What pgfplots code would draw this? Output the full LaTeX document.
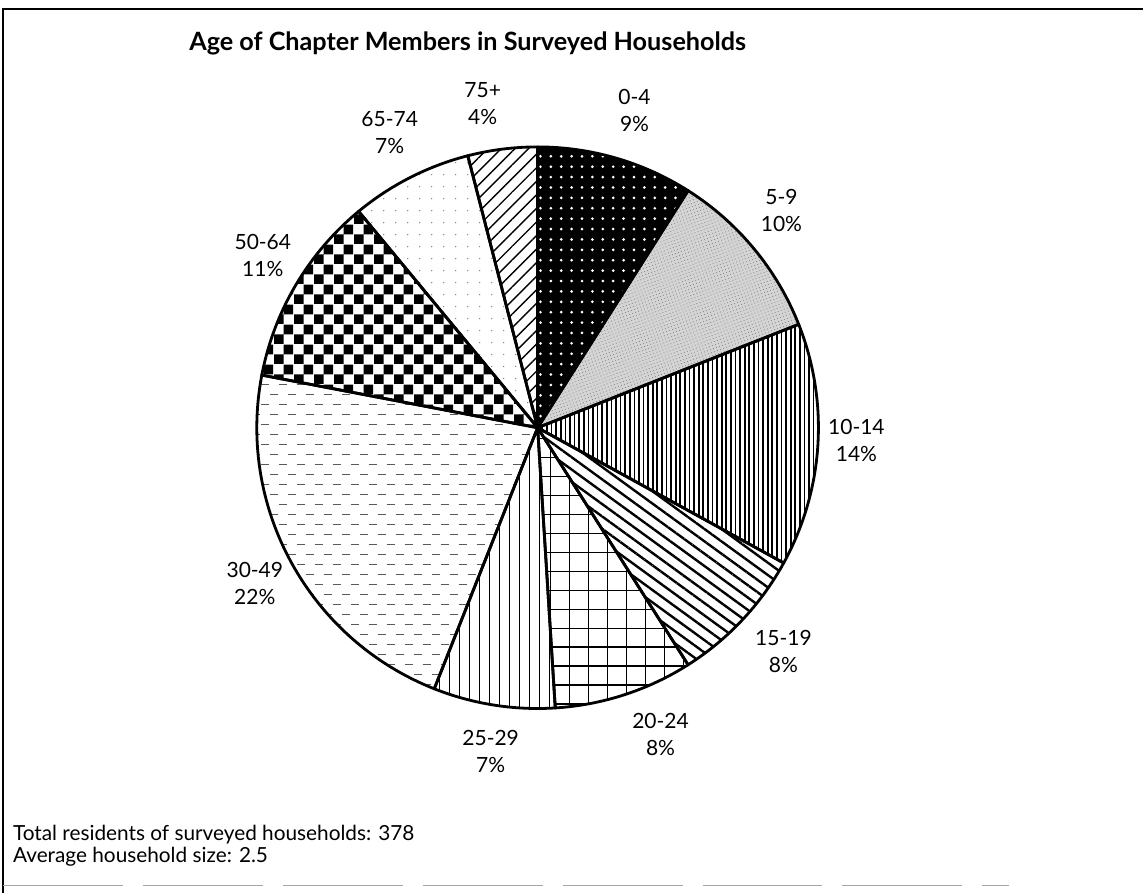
\documentclass[border=0pt]{standalone}
\usepackage{pgfplots}
\pgfplotsset{compat=1.18}
\usetikzlibrary{patterns,patterns.meta}
\usepackage{fontspec}
\setmainfont{Lato}

\pgfdeclarepatternformonly{mychecker}{\pgfpointorigin}{\pgfqpoint{9.8pt}{9.8pt}}{\pgfqpoint{9.8pt}{9.8pt}}{%
  \pgfpathrectangle{\pgfpointorigin}{\pgfqpoint{4.9pt}{4.9pt}}%
  \pgfpathrectangle{\pgfqpoint{4.9pt}{4.9pt}}{\pgfqpoint{4.9pt}{4.9pt}}%
  \pgfusepath{fill}}
\pgfdeclarepatternformonly{mydashes}{\pgfqpoint{-1pt}{-1pt}}{\pgfqpoint{10pt}{11pt}}{\pgfqpoint{9pt}{10pt}}{%
  \pgfsetlinewidth{0.5pt}%
  \pgfpathmoveto{\pgfqpoint{0pt}{0pt}}\pgfpathlineto{\pgfqpoint{4pt}{0pt}}%
  \pgfpathmoveto{\pgfqpoint{4.5pt}{5pt}}\pgfpathlineto{\pgfqpoint{8.5pt}{5pt}}%
  \pgfusepath{stroke}}

% #1 cumulative start (percent), #2 value (percent), #3 style
\newcommand\slice[3]{%
  \pgfmathsetmacro\sa{90-3.6*#1}\pgfmathsetmacro\ea{90-3.6*(#1+#2)}%
  \path[#3] (axis cs:538,428) -- ++(\sa:140.5pt) arc[start angle=\sa, end angle=\ea, radius=140.5pt] -- cycle;}
\newcommand\outline[2]{%
  \pgfmathsetmacro\sa{90-3.6*#1}\pgfmathsetmacro\ea{90-3.6*(#1+#2)}%
  \draw[line width=1.4pt, line join=round] (axis cs:538,428) -- ++(\sa:140.5pt) arc[start angle=\sa, end angle=\ea, radius=140.5pt] -- cycle;}

\begin{document}
\begin{tikzpicture}
\begin{axis}[
  x=0.5pt, y=0.5pt, xmin=0, xmax=1144, ymin=0, ymax=894, y dir=reverse,
  hide axis, clip=false, scale only axis]
\pgfplotsextra{%
  \path (axis cs:0,0) rectangle (axis cs:1144,894);
  % data: 0-4 9, 5-9 10, 10-14 14, 15-19 8, 20-24 8, 25-29 7, 30-49 22, 50-64 11, 65-74 7, 75+ 4
  \slice{0}{9}{fill=black}
  \slice{0}{9}{pattern={Dots[distance=5.2pt, radius=0.75pt]}, pattern color=white}
  \slice{9}{10}{fill=black!17}
  \slice{9}{10}{pattern={Dots[distance=1.6pt, radius=0.3pt, angle=20]}, pattern color=black!45}
  \slice{19}{14}{pattern={Lines[angle=90, distance=2.3pt, line width=0.85pt]}}
  \slice{33}{8}{pattern={Lines[angle=-36, distance=5pt, line width=1.2pt]}}
  \slice{41}{8}{pattern={Hatch[angle=0, distance=9.5pt, line width=0.85pt]}}
  \slice{49}{7}{pattern={Lines[angle=90, distance=5pt, line width=0.75pt]}}
  \slice{56}{22}{pattern=mydashes, pattern color=black!65}
  \slice{78}{11}{pattern=mychecker}
  \slice{89}{7}{pattern={Dots[distance=6pt, radius=0.35pt]}, pattern color=black!50}
  \slice{96}{4}{pattern={Lines[angle=45, distance=4.8pt, line width=0.7pt]}}
  \outline{0}{9}\outline{9}{10}\outline{19}{14}\outline{33}{8}\outline{41}{8}
  \outline{49}{7}\outline{56}{22}\outline{78}{11}\outline{89}{7}\outline{96}{4}
  % frame
  \draw[line width=0.8pt] (axis cs:1144,9) -- (axis cs:3,9) -- (axis cs:3,894);
  \draw[black!35, line width=0.6pt, dash pattern=on 60pt off 10pt] (axis cs:3,886) -- (axis cs:1010,886);
  % title
  \node[font=\bfseries\fontsize{12.6}{15}\selectfont] at (axis cs:468,43) {Age of Chapter Members in Surveyed Households};
  % labels
  \begingroup
  \tikzset{lab/.style={align=center, font=\fontsize{10.5}{13.5}\selectfont}}
  \node[lab] at (axis cs:635,111) {0-4\\9\%};
  \node[lab] at (axis cs:782,211) {5-9\\10\%};
  \node[lab] at (axis cs:857,441) {10-14\\14\%};
  \node[lab] at (axis cs:784,652) {15-19\\8\%};
  \node[lab] at (axis cs:661,735) {20-24\\8\%};
  \node[lab] at (axis cs:491,752) {25-29\\7\%};
  \node[lab] at (axis cs:255,584) {30-49\\22\%};
  \node[lab] at (axis cs:263,256) {50-64\\11\%};
  \node[lab] at (axis cs:390,133) {65-74\\7\%};
  \node[lab] at (axis cs:483,104) {75+\\4\%};
  \endgroup
  % footer
  \node[anchor=west, align=left, font=\fontsize{10.4}{11}\selectfont] at (axis cs:6,846)
    {Total residents of surveyed households: 378\\Average household size: 2.5};
}
\end{axis}
\end{tikzpicture}
\end{document}
